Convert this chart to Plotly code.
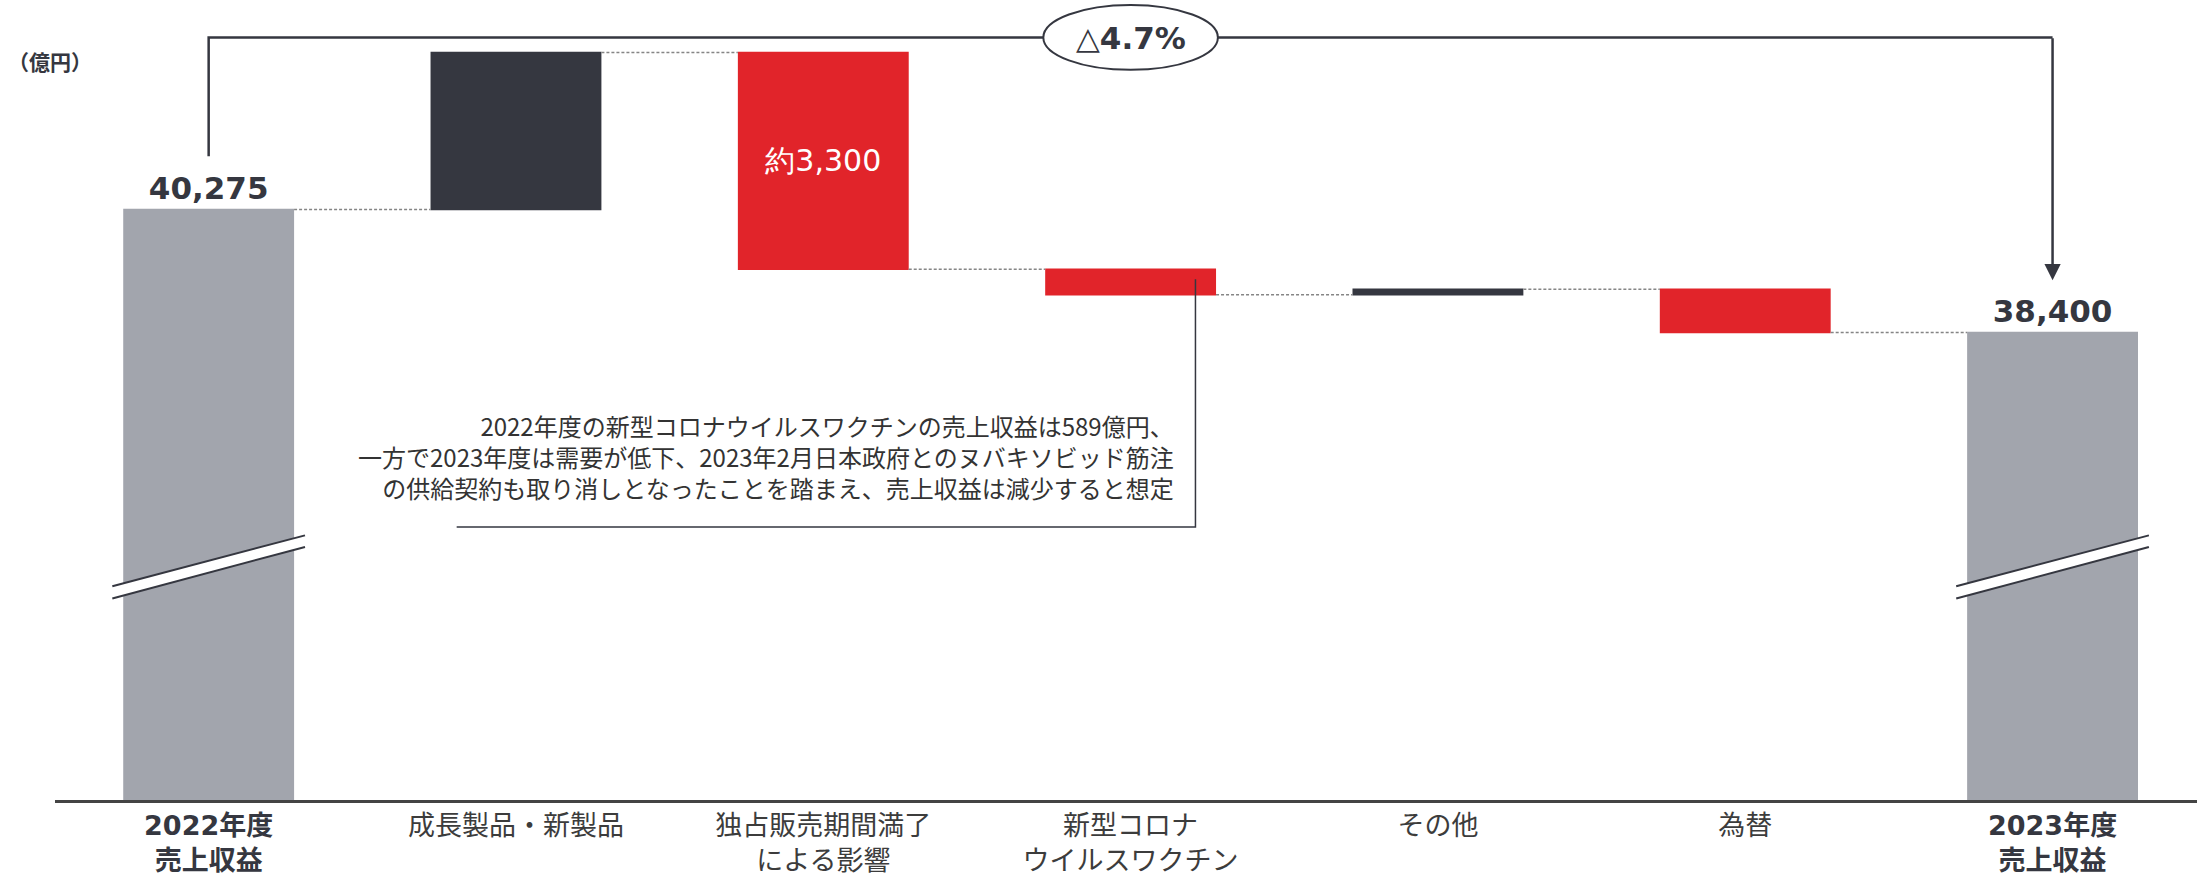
import plotly.graph_objects as go

# ---- data (億円) ----
categories = [
    "2022年度売上収益",
    "成長製品・新製品",
    "独占販売期間満了による影響",
    "新型コロナウイルスワクチン",
    "その他",
    "為替",
    "2023年度売上収益",
]
tick_lines = [
    ["2022年度", "売上収益"],
    ["成長製品・新製品"],
    ["独占販売期間満了", "による影響"],
    ["新型コロナ", "ウイルスワクチン"],
    ["その他"],
    ["為替"],
    ["2023年度", "売上収益"],
]
measures = ["absolute", "relative", "relative", "relative", "relative", "relative", "total"]
values = [40275, 2390, -3300, -390, 85, -660, 0]
change_label = "4.7%"
unit_label = "（億円）"
note_lines = [
    "2022年度の新型コロナウイルスワクチンの売上収益は589億円、",
    "一方で2023年度は需要が低下、2023年2月日本政府とのヌバキソビッド筋注",
    "の供給契約も取り消しとなったことを踏まえ、売上収益は減少すると想定",
]

total = sum(values[:-1])
bar_text = [f"{values[0]:,}", "", f"約{abs(values[2]):,}", "", "", "", f"{total:,}"]
text_pos = ["outside", "none", "inside", "none", "none", "none", "outside"]

# ---- styling ----
DARK = "#353740"
RED = "#E1242A"
GRAY = "#A2A5AD"
LABEL = "#3c3c3c"
CJK = "Noto Sans CJK JP"
NUM = "DejaVu Sans"

W, H = 2197, 876
ML, MR, MT, MB = 55, 0, 0, 74
PLOT_H = H - MT - MB
X_RANGE = (-0.5, 6.47)
Y_RANGE = (31278, 43466)


def xp(v):
    """category position -> paper x"""
    return (v - X_RANGE[0]) / (X_RANGE[1] - X_RANGE[0])


def yp(py):
    """pixel row inside the plot -> paper y"""
    return (PLOT_H - py) / PLOT_H


def tick_text(lines, i):
    # totals are emphasised in bold
    if measures[i] in ("absolute", "total"):
        return "<br>".join(f"<span style='color:{DARK}'><b>{s}</b></span>" for s in lines)
    return "<br>".join(lines)


fig = go.Figure(
    go.Waterfall(
        x=categories,
        y=values,
        measure=measures,
        text=bar_text,
        textposition=text_pos,
        insidetextanchor="middle",
        outsidetextfont=dict(family=NUM, size=31, color=DARK, weight="bold"),
        insidetextfont=dict(family=NUM, size=30, color="white"),
        textangle=0,
        cliponaxis=False,
        width=0.556,
        increasing=dict(marker=dict(color=DARK, line=dict(width=0))),
        decreasing=dict(marker=dict(color=RED, line=dict(width=0))),
        totals=dict(marker=dict(color=GRAY, line=dict(width=0))),
        connector=dict(mode="between", line=dict(color="#858585", width=1.5, dash="3px,2px")),
        hoverinfo="skip",
    )
)

shapes = []

# axis-break marks on the two total bars
for c in (0, 6):
    x0, x1 = xp(c - 0.3135), xp(c + 0.3135)
    shapes.append(dict(
        type="path", xref="paper", yref="paper",
        path=f"M {x0},{yp(587.7)} L {x1},{yp(536.7)} L {x1},{yp(548.3)} L {x0},{yp(600)} Z",
        fillcolor="white", line=dict(width=0), layer="above",
    ))
    for a, b in ((587.7, 536.7), (600, 548.3)):
        shapes.append(dict(
            type="line", xref="paper", yref="paper",
            x0=x0, y0=yp(a), x1=x1, y1=yp(b),
            line=dict(color=DARK, width=2), layer="above",
        ))

# bracket linking the two totals
shapes.append(dict(
    type="path", xref="paper", yref="paper",
    path=f"M {xp(0)},{yp(156.7)} L {xp(0)},{yp(37.5)} L {xp(6)},{yp(37.5)}",
    line=dict(color=DARK, width=2.5), layer="above",
))
# ellipse holding the change rate
shapes.append(dict(
    type="circle", xref="paper", yref="paper",
    x0=xp(2.716), x1=xp(3.284), y0=yp(70), y1=yp(5),
    fillcolor="white", line=dict(color=DARK, width=2), layer="above",
))
# leader line for the vaccine note
shapes.append(dict(
    type="path", xref="paper", yref="paper",
    path=f"M {xp(3.211)},{yp(280)} L {xp(3.211)},{yp(528.3)} L {xp(0.807)},{yp(528.3)}",
    line=dict(color=DARK, width=1.5), layer="above",
))

annotations = [
    # downward arrow to the 2023 total
    dict(x=xp(6), y=yp(281), xref="paper", yref="paper", text="",
         showarrow=True, ax=0, ay=-(281 - 37.5), axref="pixel", ayref="pixel",
         arrowhead=2, arrowsize=1.3, arrowwidth=2.5, arrowcolor=DARK, standoff=0),
    dict(x=xp(3), y=yp(38), xref="paper", yref="paper",
         xanchor="center", yanchor="middle",
         text=f"△<b>{change_label}</b>", showarrow=False,
         font=dict(family=NUM, size=31, color=DARK)),
    dict(x=(6 - ML) / (W - ML - MR), y=yp(61), xref="paper", yref="paper",
         text=f"<b>{unit_label}</b>", showarrow=False, xanchor="left", yanchor="middle",
         font=dict(family=CJK, size=21, color=DARK)),
    # note on the vaccine decline
    dict(x=xp(3.148), y=yp(458), xref="paper", yref="paper",
         text="<br>".join(note_lines), showarrow=False,
         xanchor="right", yanchor="middle", align="right",
         font=dict(family=CJK, size=24, color="#333333")),
]

fig.update_layout(
    width=W, height=H,
    margin=dict(l=ML, r=MR, t=MT, b=MB),
    paper_bgcolor="white", plot_bgcolor="white",
    showlegend=False,
    shapes=shapes,
    annotations=annotations,
    xaxis=dict(
        type="category",
        range=list(X_RANGE),
        tickvals=categories,
        ticktext=[tick_text(l, i) for i, l in enumerate(tick_lines)],
        tickfont=dict(family=f"{NUM}, {CJK}", size=27, color=LABEL),
        showline=True, linecolor="#444444", linewidth=2.5,
        ticks="", showgrid=False, zeroline=False,
    ),
    yaxis=dict(
        range=list(Y_RANGE),
        showticklabels=False, showgrid=False, zeroline=False, showline=False,
        ticks="",
    ),
)

fig.write_html("out.html")
